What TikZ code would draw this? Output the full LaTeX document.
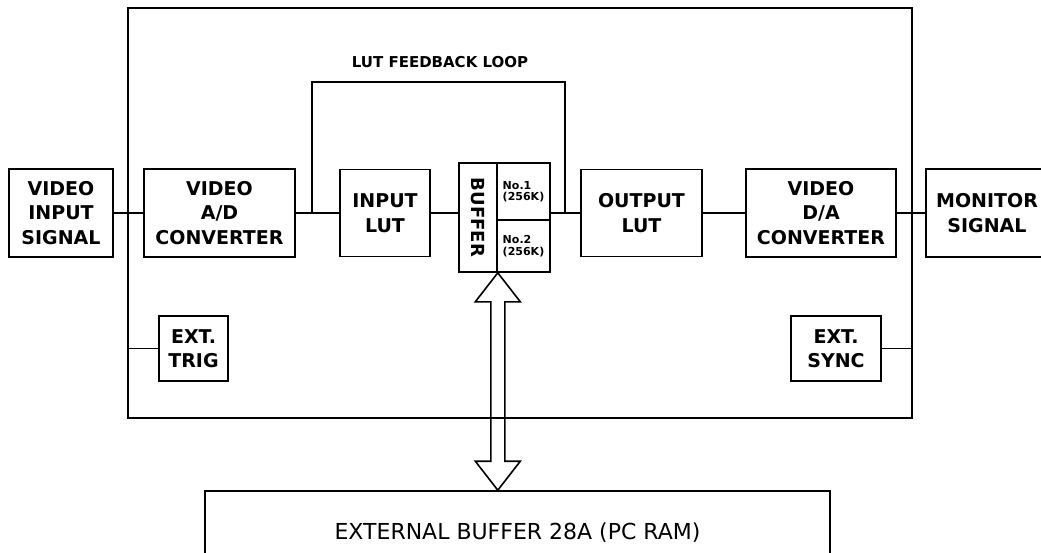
\documentclass[tikz,border=0pt]{standalone}
\usepackage{fontspec}
\setmainfont{DejaVu Sans}
\usetikzlibrary{calc}

\begin{document}
\begin{tikzpicture}[x=1pt, y=-1pt, line width=1.6pt,
    blk/.style={draw, align=center, inner sep=0pt, font=\fontsize{19}{24.5}\selectfont\bfseries},
    cell/.style={draw, align=left, inner sep=0pt, font=\fontsize{11}{11.5}\selectfont\bfseries}]
  \useasboundingbox (0,0) rectangle (1041,553);
  \clip (0,0) rectangle (1041,553);
  % outer unit
  \node[draw, minimum width=784, minimum height=410, inner sep=0pt] (unit) at (520,213) {};
  % signal chain
  \node[blk, minimum width=104, minimum height=88] (vin) at (61,213) {VIDEO\\INPUT\\SIGNAL};
  \node[blk, minimum width=151, minimum height=88] (adc) at (219.5,213) {VIDEO\\A/D\\CONVERTER};
  \node[blk, minimum width=90, minimum height=87] (inlut) at (385,213) {INPUT\\LUT};
  \node[blk, minimum width=121, minimum height=87] (outlut) at (641.5,213) {OUTPUT\\LUT};
  \node[blk, minimum width=150, minimum height=88] (dac) at (821,213) {VIDEO\\D/A\\CONVERTER};
  \node[blk, minimum width=122, minimum height=88] (mon) at (987,213) {MONITOR\\SIGNAL};
  % buffer: label cell and two banks
  \node[draw, minimum width=38, minimum height=109, inner sep=0pt] (buf) at (478,217.5) {};
  \node[rotate=-90, font=\fontsize{18}{18}\selectfont\bfseries] (buflbl) at (buf.center) {BUFFER};
  \node[cell, minimum width=53, minimum height=57] (no1) at (523.5,191.5) {No.1\\(256K)};
  \node[cell, minimum width=53, minimum height=52] (no2) at (523.5,246) {No.2\\(256K)};
  % external inputs
  \node[blk, minimum width=69, minimum height=65] (trig) at (193.5,348.5) {EXT.\\TRIG};
  \node[blk, minimum width=90, minimum height=65] (sync) at (836,348.5) {EXT.\\SYNC};
  % pc memory
  \node[draw, minimum width=625, minimum height=84, inner sep=0pt,
        font=\fontsize{22}{24}\selectfont] (ext) at (517.5,533) {EXTERNAL BUFFER 28A (PC RAM)};
  % links
  \draw (vin) -- (adc);
  \draw (adc) -- (inlut);
  \draw (inlut.east) -- (inlut.east -| buf.west);
  \draw (outlut.west -| no1.east) -- (outlut.west);
  \draw (outlut) -- (dac);
  \draw (dac) -- (mon);
  \draw (trig.west) -- (trig.west -| unit.west);
  \draw (sync.east) -- (sync.east -| unit.east);
  % feedback loop
  \coordinate (fbin) at (312,213);
  \coordinate (fbout) at (565,213);
  \coordinate (fbtop) at (440,82);
  \draw (fbin) |- (fbtop) -| (fbout);
  \node[font=\fontsize{15}{15}\selectfont\bfseries] (fblbl) at (440,62) {LUT FEEDBACK LOOP};
  % bus arrow
  \coordinate (bustop) at (buf.south east);
  \coordinate (busbot) at (buf.south east |- ext.north);
  \draw (bustop) -- ++(22.5,29) -- ++(-15.5,0) -- ($(busbot)+(7,-29)$) -- ++(15.5,0)
    -- (busbot) -- ++(-22.5,-29) -- ++(15.5,0) -- ($(bustop)+(-7,29)$) -- ++(-15.5,0) -- cycle;
\end{tikzpicture}
\end{document}
